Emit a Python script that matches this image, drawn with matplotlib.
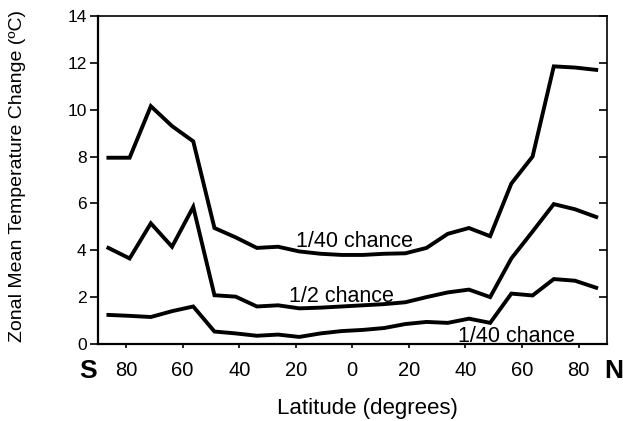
import matplotlib
matplotlib.use("Agg")
import matplotlib.pyplot as plt
from matplotlib.lines import TICKLEFT

plt.rcParams['font.family'] = ['Liberation Sans', 'DejaVu Sans']

# latitude centres of the zonal bands (negative = south)
latitude = [-86.25, -78.75, -71.25, -63.75, -56.25, -48.75, -41.25, -33.75,
            -26.25, -18.75, -11.25, -3.75, 3.75, 11.25, 18.75, 26.25,
            33.75, 41.25, 48.75, 56.25, 63.75, 71.25, 78.75, 86.25]

upper_140 = [7.95, 7.95, 10.15, 9.3, 8.65, 4.95, 4.55, 4.1,
             4.15, 3.95, 3.85, 3.8, 3.8, 3.85, 3.87, 4.1,
             4.7, 4.95, 4.6, 6.85, 8.0, 11.85, 11.8, 11.7]

median_12 = [4.1, 3.65, 5.15, 4.15, 5.85, 2.08, 2.02, 1.6,
             1.65, 1.52, 1.55, 1.6, 1.65, 1.7, 1.78, 2.0,
             2.2, 2.32, 2.0, 3.65, 4.8, 5.97, 5.75, 5.42]

lower_140 = [1.24, 1.2, 1.15, 1.4, 1.6, 0.53, 0.45, 0.35,
             0.4, 0.3, 0.45, 0.55, 0.6, 0.68, 0.85, 0.94,
             0.9, 1.08, 0.9, 2.15, 2.07, 2.77, 2.7, 2.4]

xtick_pos = [-80, -60, -40, -20, 0, 20, 40, 60, 80]
xtick_lab = ['80', '60', '40', '20', '0', '20', '40', '60', '80']

fig = plt.figure(figsize=(6.23, 4.21), dpi=100)
ax = fig.add_axes([0.157, 0.183, 0.817, 0.779])

for series in (upper_140, median_12, lower_140):
    ax.plot(latitude, series, color='black', linewidth=2.8, solid_joinstyle='miter')

# curve labels (baseline placed just above each curve)
ax.text(0.7, 4.14, '1/40 chance', fontsize=15.5, ha='center', va='baseline')
ax.text(-4, 1.79, '1/2 chance', fontsize=15.5, ha='center', va='baseline')
ax.text(58, 0.09, '1/40 chance', fontsize=15.5, ha='center', va='baseline')

ax.set_xlim(-90, 90)
ax.set_ylim(0, 14)
ax.set_xticks(xtick_pos)
ax.set_xticklabels(xtick_lab, fontsize=14.5)
ax.set_yticks(range(0, 15, 2))
ax.tick_params(axis='y', labelsize=12.5, direction='out', length=6, width=1.2, pad=2, right=True)
ax.tick_params(axis='x', direction='out', length=3, width=1.2, pad=9)
# right-hand ticks point inwards
for t in ax.yaxis.get_major_ticks():
    t.tick2line.set_marker(TICKLEFT)

for s in ax.spines.values():
    s.set_linewidth(1.2)
ax.spines['left'].set_linewidth(1.6)
ax.spines['bottom'].set_linewidth(1.6)

fig.text(88 / 623, 1 - 378 / 421, 'S', fontsize=19, fontweight='bold', ha='center', va='baseline')
fig.text(614 / 623, 1 - 378 / 421, 'N', fontsize=19, fontweight='bold', ha='center', va='baseline')

ax.set_xlabel('Latitude (degrees)', fontsize=16)
ax.xaxis.set_label_coords(0.53, -0.215)
ax.xaxis.label.set_va('baseline')

ax.set_ylabel('Zonal Mean Temperature Change (ºC)', fontsize=14)
ax.yaxis.set_label_coords(-0.158, 0.512)
ax.yaxis.label.set_va('center')
ax.yaxis.label.set_ha('center')

fig.savefig('out.png', dpi=100)
